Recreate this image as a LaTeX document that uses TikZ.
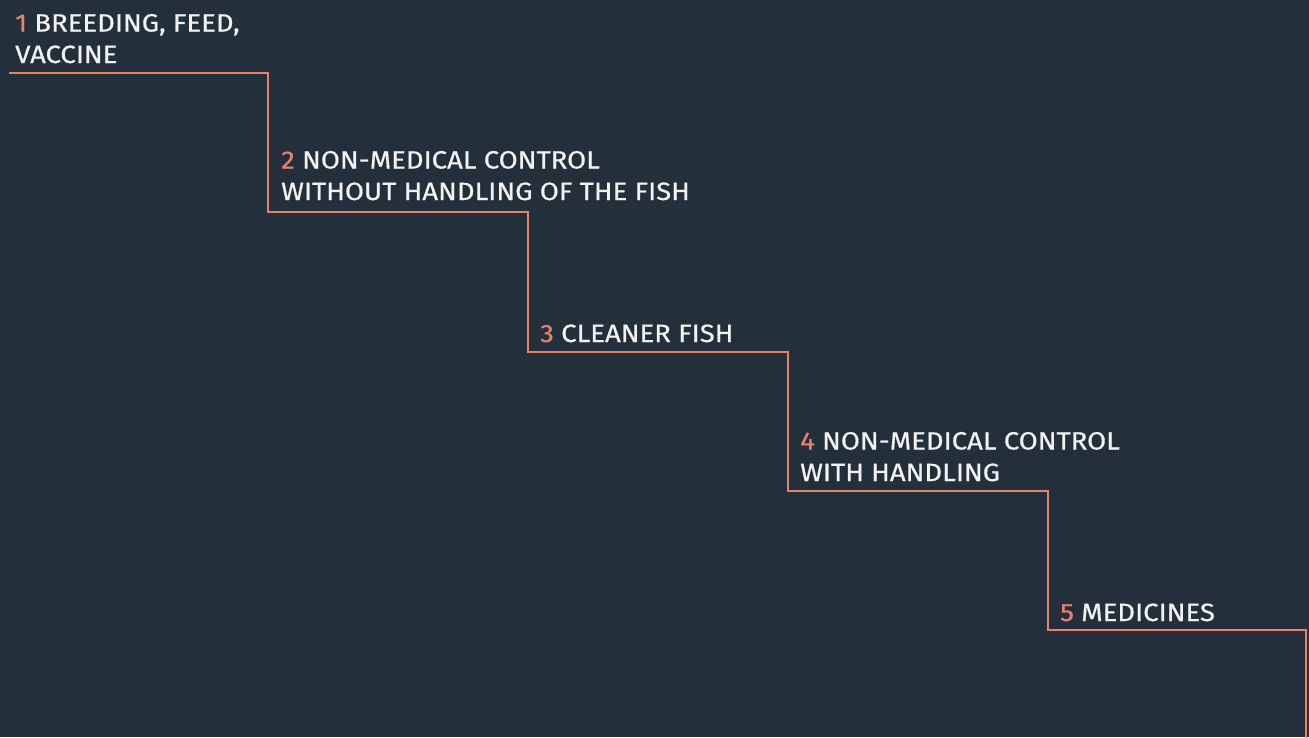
\documentclass[tikz,border=0pt]{standalone}
\usepackage{fontspec}
\setmainfont{Fira Sans}[FakeStretch=1.1, FakeBold=0.6]
\definecolor{bg}{HTML}{232F3A}
\definecolor{salmon}{HTML}{E8806E}
\definecolor{txt}{HTML}{F2F2F2}
\tikzset{
  lbl/.style={anchor=base west, inner sep=0pt, align=left, text=txt,
    font=\fontsize{25}{31.5}\selectfont},
  stair/.style={draw=salmon, line width=2pt, line join=miter},
}
\newcommand{\num}[1]{\textcolor{salmon}{#1}}
\begin{document}
\begin{tikzpicture}[x=1pt,y=-1pt]
\fill[bg] (0,0) rectangle (1309,737);
\useasboundingbox (0,0) rectangle (1309,737);
\node[lbl] (t1) at (15,63) {\num{1} BREEDING, FEED,\\VACCINE};
\node[lbl] (t2) at (281,200) {\num{2} NON-MEDICAL CONTROL\\WITHOUT HANDLING OF THE FISH};
\node[lbl] (t3) at (540,342) {\num{3} CLEANER FISH};
\node[lbl] (t4) at (800,481) {\num{4} NON-MEDICAL CONTROL\\WITH HANDLING};
\node[lbl] (t5) at (1060,621) {\num{5} MEDICINES};
\coordinate (s0) at (9,73);
\coordinate (s1) at (268,73);
\coordinate (s2) at (268,212);
\coordinate (s3) at (528,212);
\coordinate (s4) at (528,352);
\coordinate (s5) at (788,352);
\coordinate (s6) at (788,491);
\coordinate (s7) at (1048,491);
\coordinate (s8) at (1048,630);
\coordinate (s9) at (1306,630);
\coordinate (s10) at (1306,740);
\draw[stair] (s0) -- (s1) -- (s2) -- (s3) -- (s4) -- (s5) -- (s6) -- (s7) -- (s8) -- (s9) -- (s10);
\end{tikzpicture}
\end{document}
